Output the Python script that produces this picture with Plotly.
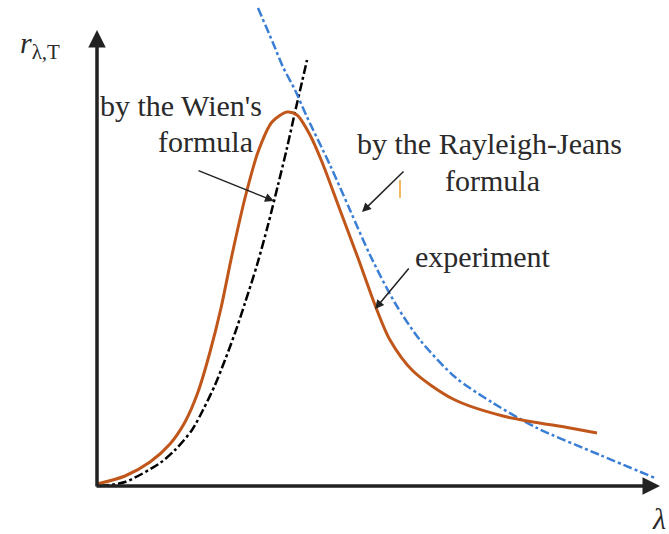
import plotly.graph_objects as go

# origin of the graph sits at the lower-left corner of the axes
X0, Y0 = 97, 486

# experiment curve (lambda, r)
exp_px = [97, 125, 150, 170, 185, 198, 210, 221, 232, 245, 258, 272, 287, 297, 310,
          322, 340, 358, 375, 390, 413, 453, 503, 570, 597]
exp_py = [484, 476, 462, 444, 422, 392, 352, 308, 255, 198, 152, 122, 112, 115, 135,
          162, 210, 258, 305, 340, 371, 399, 416, 428, 433]

# Wien's formula
wien_px = [100, 125, 160, 175, 192, 203, 215, 225, 235, 245, 257, 268, 278,
           287, 295, 302, 307]
wien_py = [486, 482, 463, 450, 430, 410, 385, 360, 333, 303, 265, 225, 185,
           148, 112, 82, 60]

# Rayleigh-Jeans formula
rj_px = [258, 273, 283, 295, 307, 330, 350, 370, 395, 420, 455, 493, 537, 600, 655]
rj_py = [8, 43, 67, 90, 117, 165, 210, 255, 303, 340, 377, 403, 428, 455, 478]


def lam(v):
    return [p - X0 for p in v]


def r(v):
    return [Y0 - p for p in v]


fig = go.Figure()
fig.add_trace(go.Scatter(x=lam(wien_px), y=r(wien_py), mode="lines",
                         line=dict(color="black", width=2.5, dash="dashdot",
                                   shape="spline", smoothing=0.8)))
fig.add_trace(go.Scatter(x=lam(rj_px), y=r(rj_py), mode="lines",
                         line=dict(color="#3a7fd5", width=2.5, dash="dashdot",
                                   shape="spline", smoothing=0.8)))
fig.add_trace(go.Scatter(x=lam(exp_px), y=r(exp_py), mode="lines",
                         line=dict(color="#c0561a", width=3, shape="spline",
                                   smoothing=0.8)))

font = dict(family="Liberation Serif", size=30, color="#2a2a2a")


def arrow(x, y, ax, ay, width=1.5, size=1.2, head=2):
    fig.add_annotation(x=x - X0, y=Y0 - y, ax=ax - X0, ay=Y0 - ay,
                       xref="x", yref="y", axref="x", ayref="y", text="",
                       showarrow=True, arrowhead=head, arrowsize=size,
                       arrowwidth=width, arrowcolor="#222")


# axes with arrowheads
arrow(97, 30, 97, 488, width=3.5, size=1, head=2)
arrow(660, 486, 95, 486, width=3.5, size=1, head=2)

# pointer arrows
arrow(274, 201, 197, 170)
arrow(362, 212, 405, 170)
arrow(375, 309, 410, 267)


def label(x, y, text, anchor="left"):
    fig.add_annotation(x=x - X0, y=Y0 - y, text=text, showarrow=False,
                       xref="x", yref="y", xanchor=anchor, yanchor="middle",
                       font=font)


label(98, 105, "by the Wien's")
label(255, 141, "formula", anchor="right")
label(355, 143, "by the Rayleigh-Jeans")
label(492, 180, "formula", anchor="center")
label(413, 256, "experiment")
label(18, 45, "<i>r</i><sub>λ,T</sub>")
label(650, 518, "<i>λ</i>")

fig.add_shape(type="line", x0=400 - X0, x1=400 - X0, y0=Y0 - 180, y1=Y0 - 198,
              xref="x", yref="y", line=dict(color="#f0a030", width=1.5))

fig.update_xaxes(range=[-X0, 669 - X0], visible=False)
fig.update_yaxes(range=[Y0 - 534, Y0], visible=False)
fig.update_layout(width=669, height=534, margin=dict(l=0, r=0, t=0, b=0),
                  showlegend=False, plot_bgcolor="white", paper_bgcolor="white")
fig.write_html("out.html", config={"displayModeBar": False},
               post_script="document.body.style.margin = '0';")
